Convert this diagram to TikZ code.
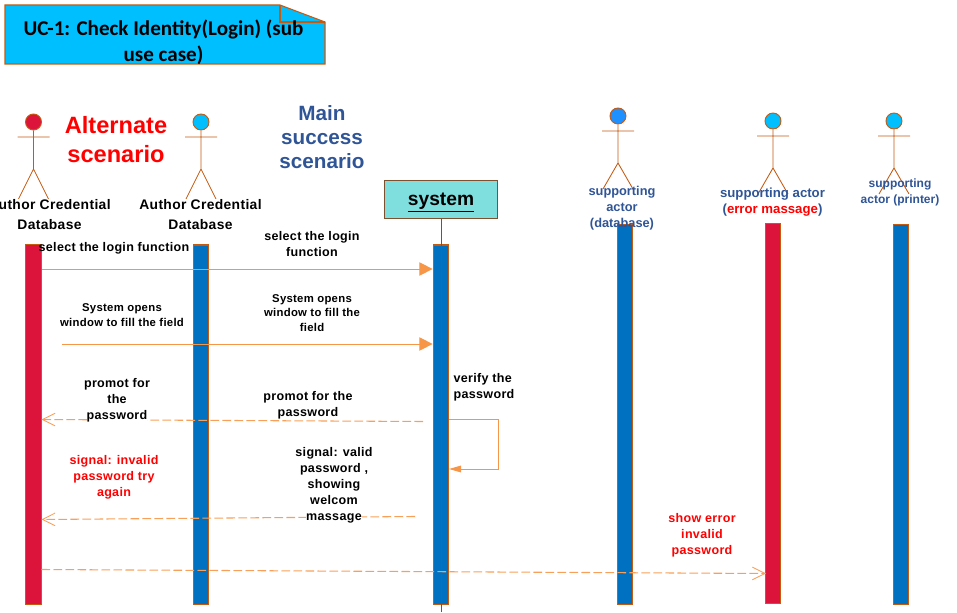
\documentclass[tikz,border=0pt]{standalone}
\usepackage{fontspec}
\setmainfont{Liberation Sans}
\newfontfamily\calfont{Carlito}
\newfontfamily\spfont[LetterSpace=2.5]{Liberation Sans}
\usetikzlibrary{arrows.meta}
\definecolor{edge}{HTML}{C55A11}
\definecolor{line}{HTML}{F79646}
\definecolor{crim}{HTML}{DC143C}
\definecolor{sky}{HTML}{00BFFF}
\definecolor{barblue}{HTML}{0070C0}
\definecolor{dodger}{HTML}{1E90FF}
\definecolor{navy2}{HTML}{2F5597}
\definecolor{teal2}{HTML}{7FDFDF}
\definecolor{brownline}{HTML}{7F5030}
\setlength{\fboxsep}{0pt}
\newcommand{\wbox}[1]{\colorbox{white}{#1}}
\tikzset{
  x=0.75pt,y=-0.75pt,
  bar/.style={draw=edge,line width=0.9pt,minimum width=15.5*0.75pt,inner sep=0pt},
  stick/.style={draw=edge,line width=0.65pt},
  head/.style={circle,draw=edge,line width=0.7pt,minimum size=16*0.75pt,inner sep=0pt},
  lbl/.style={font=\spfont\bfseries\fontsize{9.4}{12}\selectfont,align=center,inner sep=0pt,text=black},
  big/.style={font=\spfont\bfseries\fontsize{10.4}{14.5}\selectfont,align=center,inner sep=0pt,text=black},
  sml/.style={font=\spfont\bfseries\fontsize{8.5}{11}\selectfont,align=center,inner sep=0pt,text=black},
  sup/.style={font=\bfseries\fontsize{#1}{12}\selectfont,align=center,inner sep=0pt,text=navy2},
  msg/.style={line,line width=0.75pt,-{Triangle[length=10pt,width=10pt]}},
  loopmsg/.style={line,line width=0.75pt,-{Triangle[length=9pt,width=5pt]}},
  ret/.style={draw=line!90,line width=0.8pt,dash pattern=on 6.5pt off 2.5pt,-{Straight Barb[length=9.5pt,width=9.5pt,line width=0.65pt]}},
  line/.style={draw=line}
}
\newcommand{\actor}[5]{% name, x, head y, colour, foot offset
  \node[head,fill=#4] (#1h) at (#2,#3) {};
  \coordinate (#1sl) at (#2-16,#3+15);
  \coordinate (#1sr) at (#2+16,#3+15);
  \coordinate (#1w) at (#2,#3+47);
  \coordinate (#1fl) at (#2-15,#3+#5);
  \coordinate (#1fr) at (#2+15,#3+#5);
  \draw[stick] (#1h) -- (#1w) -- (#1fl) (#1w) -- (#1fr) (#1sl) -- (#1sr);
}
\begin{document}
\begin{tikzpicture}
\useasboundingbox (0,0) rectangle (957,613);
% note
\draw[draw=edge,line width=0.8pt,fill=sky] (5,5) -- (280,5) -- (325,22) -- (325,64) -- (5,64) -- cycle;
\draw[draw=edge,line width=0.8pt] (280,5) -- (280,22) -- (325,22);
\node[font=\calfont\bfseries\fontsize{15.8}{19.5}\selectfont,align=center,inner sep=0pt] (title) at (163.5,42)
  {UC-1: Check Identity(Login) (sub\\use case)};
% actors
\actor{a}{33.5}{122}{crim}{77}
\actor{b}{201}{122}{sky}{77}
\actor{c}{618}{116}{dodger}{73}
\actor{d}{773}{121}{sky}{73}
\actor{e}{894}{121}{sky}{73}
% bars
\node[bar,fill=crim,anchor=north,minimum height=360*0.75pt] (A) at (33.5,244) {};
\node[bar,fill=barblue,anchor=north,minimum height=359.5*0.75pt] (B) at (201,244.5) {};
\node[bar,fill=barblue,anchor=north,minimum height=359.5*0.75pt] (C) at (441,244.5) {};
\node[bar,fill=barblue,anchor=north,minimum height=380*0.75pt] (D) at (625,224) {};
\node[bar,fill=crim,anchor=north,minimum height=380*0.75pt] (E) at (773,223) {};
\node[bar,fill=barblue,anchor=north,minimum height=380*0.75pt] (F) at (901,224) {};
% system
\node[draw=brownline,line width=0.8pt,fill=teal2,minimum width=113*0.75pt,minimum height=38*0.75pt,inner sep=0pt] (sys) at (441,199.5) {};
\node[font=\bfseries\fontsize{14.4}{16}\selectfont,inner sep=0pt,anchor=base] (systext) at (441,205)
  {\vtop{\hbox{system}\kern1.2pt\hrule height 1.3pt}};
\coordinate (lifeEnd) at (441,612);
\draw[draw=brownline,line width=0.6pt] (sys.south) -- (lifeEnd);
% scenario titles
\node[font=\bfseries\fontsize{17.7}{22}\selectfont,align=center,text=red,inner sep=0pt] (alt) at (116,139.5) {Alternate\\scenario};
\node[font=\bfseries\fontsize{15.5}{18}\selectfont,align=center,text=navy2,inner sep=0pt] (main) at (322,137) {Main\\success\\scenario};
% actor labels
\node[big] (la) at (49.5,214.5) {Author Credential\\Database};
\node[big] (lb) at (200.5,214.5) {Author Credential\\Database};
\node[sup=9.6] (lc) at (622,208.5) {supporting\\actor\\(database)};
\node[sup=9.9] (ld) at (772.5,202.5) {supporting actor\\(\textcolor{red}{error massage})};
\node[sup=9] (le) at (900,192) {supporting\\actor (printer)};
% messages
\draw[msg] (A.east |- 0,269) coordinate (m1s) -- (C.west |- 0,269) coordinate (m1e);
\coordinate (m2s) at (62,344);
\draw[msg] (m2s) -- (C.west |- m2s) coordinate (m2e);
\coordinate (r1s) at (423,421.5);
\coordinate (r1e) at (41.5,419.5);
\draw[ret] (r1s) -- (r1e);
\coordinate (r2s) at (415,516.5);
\coordinate (r2e) at (41.5,519.5);
\draw[ret] (r2s) -- (r2e);
\coordinate (r3s) at (41.5,569.5);
\coordinate (r3e) at (766,573.5);
\draw[ret] (r3s) -- (r3e);
\coordinate (l0) at (449,419.5);
\coordinate (l1) at (498.5,419.5);
\coordinate (l2) at (498.5,469);
\coordinate (l3) at (449,469);
\draw[loopmsg] (l0) -- (l1) -- (l2) -- (l3);
% message labels
\node[lbl] (t1) at (114,248.5) {select the login function};
\node[lbl] (t2) at (312,244.5) {select the login\\function};
\node[sml] (t3) at (122,315) {System opens\\window to fill the field};
\node[sml] (t4) at (312,313) {System opens\\window to fill the\\field};
\node[lbl] (t5) at (117,400.5) {promot for\\the\\\wbox{password}};
\node[lbl] (t6) at (308,405.5) {promot for the\\password};
\node[lbl,text=red] (t7) at (114,477) {signal: invalid\\password try\\again};
\node[lbl] (t8) at (334,485) {signal: valid\\password ,\\showing\\welcom\\\wbox{massage}};
\node[lbl,align=left] (t9) at (484,387) {verify the\\password};
\node[lbl,text=red] (t10) at (702,535) {show error\\invalid\\password};
\end{tikzpicture}
\end{document}
